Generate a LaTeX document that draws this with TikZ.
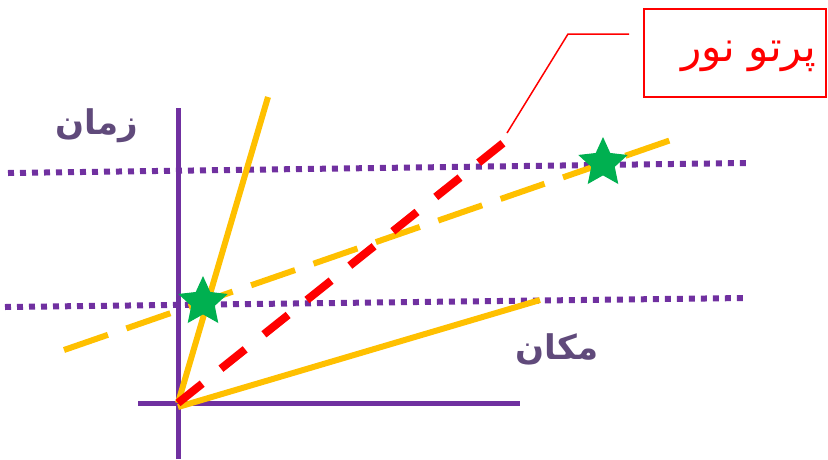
\documentclass[tikz,border=0pt]{standalone}
\usepackage{fontspec}
\usetikzlibrary{shapes.geometric}
\newfontfamily\arabicfont[Script=Arabic]{DejaVu Sans}
\TeXXeTstate=1
\definecolor{axispurple}{HTML}{7030A0}
\definecolor{labelpurple}{HTML}{604A7B}
\definecolor{goldline}{HTML}{FFC000}
\definecolor{stargreen}{HTML}{00B050}
\definecolor{rayred}{HTML}{FF0000}
\tikzset{
  axisline/.style={draw=axispurple, line width=5pt},
  dotline/.style={draw=axispurple, line width=6pt, dash pattern=on 6pt off 6pt},
  worldline/.style={draw=goldline, line width=6pt},
  simdash/.style={draw=goldline, line width=6pt, dash pattern=on 46.5pt off 19.5pt},
  raydash/.style={draw=rayred, line width=8pt, dash pattern=on 31pt off 24pt},
  event/.style={star, star points=5, star point ratio=2.1, fill=stargreen, draw=none, minimum size=52pt, inner sep=0pt},
  axislabel/.style={text=labelpurple, font=\arabicfont\bfseries\fontsize{34}{38}\selectfont, inner sep=0pt},
  calloutbox/.style={draw=rayred, line width=1.5pt, minimum width=182pt, minimum height=88pt, inner sep=0pt},
  callouttext/.style={text=rayred, inner sep=0pt, font=\arabicfont\fontsize{42}{46}\selectfont}
}
\begin{document}
\begin{tikzpicture}[x=1pt,y=-1pt]
\useasboundingbox (0,0) rectangle (828,459);
% coordinates
\coordinate (O) at (178,403);
\coordinate (vtop) at (178,108);
\coordinate (vbot) at (178,459);
\coordinate (hl) at (138,403);
\coordinate (hr) at (520,403);
\coordinate (d1l) at (8,173);
\coordinate (d1r) at (746,163);
\coordinate (d2l) at (5,307);
\coordinate (d2r) at (746,298);
\coordinate (w1) at (268,97);
\coordinate (O2) at (178,407);
\coordinate (w2) at (540,300);
\coordinate (s1) at (64,350);
\coordinate (s2) at (671,140);
\coordinate (r2) at (507,140);
\coordinate (c0) at (507,133);
\coordinate (c1) at (568,34);
\coordinate (c2) at (629,34);
% dotted simultaneity lines
\draw[dotline] (d1l) -- (d1r);
\draw[dotline] (d2l) -- (d2r);
% axes
\draw[axisline] (vbot) -- (vtop);
\draw[axisline] (hl) -- (hr);
% world lines
\draw[worldline] (O) -- (w1);
\draw[worldline] (O2) -- (w2);
\draw[simdash] (s1) -- (s2);
\draw[raydash] (O) -- (r2);
% callout
\draw[rayred, line width=1.5pt] (c0) -- (c1) -- (c2);
\node[calloutbox] (box) at (735,53) {};
\node[callouttext] (boxtext) at (749,56) {\beginR پرتو نور\endR};
% stars
\node[event] (e1) at (203,302) {};
\node[event] (e2) at (603,163) {};
% labels
\node[axislabel] (tlabel) at (97,126) {\beginR زمان\endR};
\node[axislabel] (xlabel) at (557,349) {\beginR مکان\endR};
\end{tikzpicture}
\end{document}
